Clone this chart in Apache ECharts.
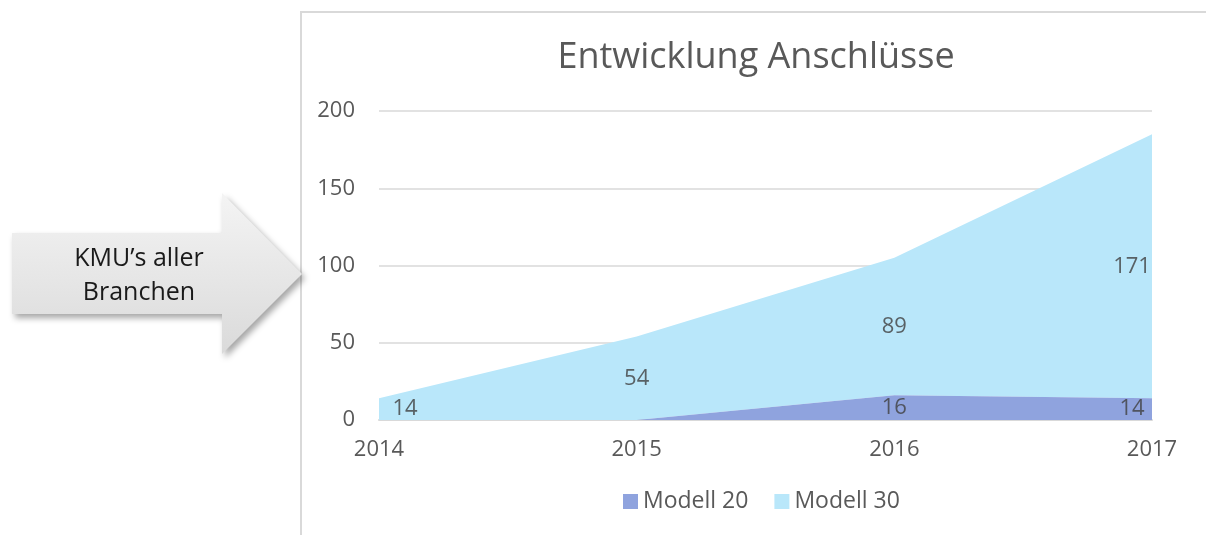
<!DOCTYPE html>
<html>
<head>
<meta charset="utf-8">
<script src="https://cdn.jsdelivr.net/npm/echarts@6/dist/echarts.min.js"></script>
<style>
  html, body { margin: 0; padding: 0; background: #fff; }
  #chart { width: 1206px; height: 535px; }
</style>
</head>
<body>
<div id="chart"></div>
<script>
const years = ['2014', '2015', '2016', '2017']
const modell20 = [0, 0, 16, 14]
const modell30 = [14, 54, 89, 171]
const yTicks = [0, 50, 100, 150, 200]

const font = 'Open Sans'
const chart = echarts.init(document.getElementById('chart'))

// label points sit in the middle of each band
const labelOffset = i => (i === 0 ? [26, 0] : i === years.length - 1 ? [-20, 0] : [0, 0])
const labels20 = []
const labels30 = []
years.forEach((y, i) => {
  if (modell20[i] > 0) {
    labels20.push({ value: [y, modell20[i] / 2, modell20[i]], label: { offset: labelOffset(i) } })
  }
  labels30.push({ value: [y, modell20[i] + modell30[i] / 2, modell30[i]], label: { offset: labelOffset(i) } })
})

const labelStyle = {
  show: true,
  position: 'inside',
  fontFamily: font,
  fontSize: 22,
  color: '#404040',
  formatter: p => p.value[2]
}

chart.setOption({
  animation: false,
  textStyle: { fontFamily: font },
  title: {
    text: 'Entwicklung Anschlüsse',
    left: 751,
    textAlign: 'center',
    top: 35,
    textStyle: { fontFamily: font, fontWeight: 'normal', fontSize: 36, color: '#595959' }
  },
  graphic: [
    {
      type: 'rect',
      shape: { x: 301, y: 12, width: 1000, height: 600 },
      style: { fill: 'none', stroke: '#d9d9d9', lineWidth: 2 },
      z: -1
    },
    {
      type: 'polygon',
      shape: {
        points: [[12, 233], [222, 233], [222, 193], [302, 274], [222, 354], [222, 314], [12, 314]]
      },
      style: {
        fill: new echarts.graphic.LinearGradient(0, 0, 0, 1, [
          { offset: 0, color: '#f4f4f4' },
          { offset: 1, color: '#dadada' }
        ]),
        shadowBlur: 6,
        shadowOffsetX: 3,
        shadowOffsetY: 4,
        shadowColor: 'rgba(0,0,0,0.35)'
      }
    },
    {
      type: 'text',
      style: {
        x: 139,
        y: 242,
        text: 'KMU’s aller\nBranchen',
        fontFamily: font,
        fontSize: 25,
        lineHeight: 34,
        fill: '#1a1a1a',
        align: 'center',
        verticalAlign: 'top'
      }
    }
  ],
  legend: {
    bottom: 17,
    left: 618,
    itemWidth: 15,
    itemHeight: 15,
    itemGap: 26,
    icon: 'rect',
    textStyle: { fontFamily: font, fontSize: 23, color: '#595959' },
    data: ['Modell 20', 'Modell 30']
  },
  grid: { left: 379, right: 54, top: 111, bottom: 115 },
  xAxis: {
    type: 'category',
    boundaryGap: false,
    data: years,
    axisLine: { show: true, lineStyle: { color: '#d9d9d9', width: 2 } },
    axisTick: { show: false },
    axisLabel: { margin: 19, fontFamily: font, fontSize: 22, color: '#595959' }
  },
  yAxis: {
    type: 'value',
    min: yTicks[0],
    max: yTicks[yTicks.length - 1],
    interval: 50,
    axisLine: { show: false },
    axisTick: { show: false },
    axisLabel: { margin: 24, fontFamily: font, fontSize: 22, color: '#595959' },
    splitLine: { lineStyle: { color: '#d9d9d9', width: 1.5 } }
  },
  series: [
    {
      name: 'Modell 20',
      type: 'line',
      stack: 'total',
      data: modell20,
      showSymbol: false,
      lineStyle: { width: 0 },
      itemStyle: { color: '#8fa3de' },
      areaStyle: { color: '#8fa3de', opacity: 1 },
      z: 2
    },
    {
      name: 'Modell 30',
      type: 'line',
      stack: 'total',
      data: modell30,
      showSymbol: false,
      lineStyle: { width: 0 },
      itemStyle: { color: '#b9e7fa' },
      areaStyle: { color: '#b9e7fa', opacity: 1 },
      z: 1
    },
    {
      type: 'scatter',
      symbolSize: 0,
      data: labels20,
      label: labelStyle,
      silent: true,
      z: 5
    },
    {
      type: 'scatter',
      symbolSize: 0,
      data: labels30,
      label: labelStyle,
      silent: true,
      z: 5
    }
  ]
})
</script>
</body>
</html>
